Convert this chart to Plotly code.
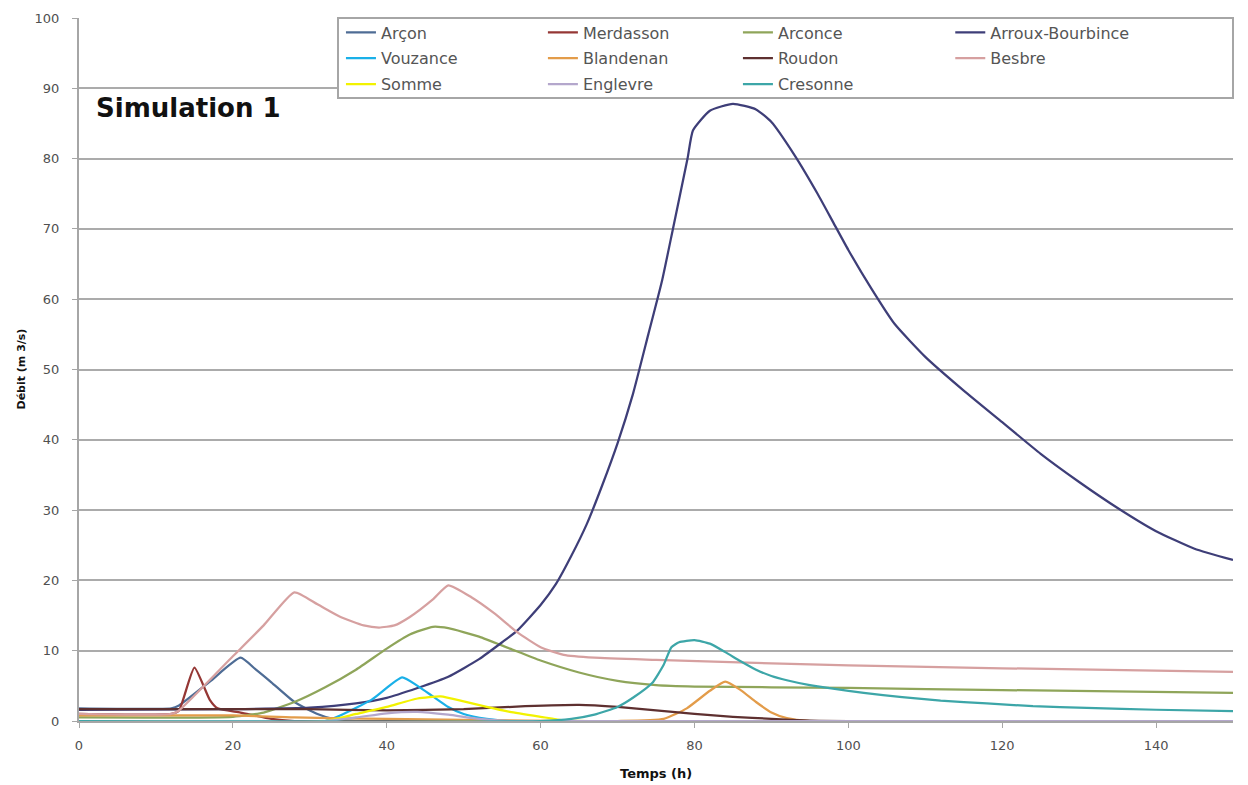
import plotly.graph_objects as go

# Hydrographs per watershed: time (h) and discharge (m3/s)
arcon_t = [0, 12, 13, 17, 21, 23, 25, 28, 31, 33, 36, 150]
arcon_q = [1.8, 1.8, 2.2, 5.6, 9.0, 7.3, 5.5, 2.7, 1.0, 0.3, 0.0, 0.0]

merdasson_t = [0, 12, 13, 15, 17, 18, 21, 25, 28, 150]
merdasson_q = [1.0, 1.0, 1.5, 7.6, 3.0, 1.8, 1.2, 0.3, 0.0, 0.0]

arconce_t = [0, 20, 24, 28, 32, 36, 40, 43, 46, 48, 52, 56, 60, 65, 70, 75, 80, 90, 100, 120, 150]
arconce_q = [0.5, 0.6, 1.2, 2.7, 4.8, 7.3, 10.3, 12.3, 13.4, 13.2, 12.0, 10.3, 8.6, 6.9, 5.7, 5.1, 4.9, 4.8, 4.7, 4.4, 4.0]

arroux_t = [0, 20, 30, 36, 40, 44, 48, 52, 55, 57, 60, 62, 64, 66, 68, 70, 72, 74, 75.8, 77.2, 79.1, 79.8,
            82, 85, 88, 90, 93, 96, 98, 100, 103, 106, 110, 115, 120, 125, 130, 135, 140, 145, 150]
arroux_q = [1.6, 1.7, 1.9, 2.5, 3.3, 4.7, 6.3, 8.8, 11.2, 12.9, 16.5, 19.5, 23.5, 28.0, 33.5, 39.5, 46.5, 55.0, 62.7, 70.0, 80.0, 84.0,
            86.8, 87.8, 87.0, 85.2, 80.5, 75.0, 71.0, 67.0, 61.5, 56.5, 51.8, 47.0, 42.5, 38.0, 34.0, 30.3, 27.0, 24.5, 22.9]

vouzance_t = [0, 32, 34, 38, 42, 44, 46, 48, 50, 53, 56, 150]
vouzance_q = [0.0, 0.0, 0.8, 3.0, 6.2, 5.0, 3.5, 2.0, 1.0, 0.3, 0.0, 0.0]

blandenan_t = [0, 20, 28, 40, 55, 70, 76, 79, 82, 84, 86, 88, 90, 92, 95, 150]
blandenan_q = [0.8, 0.8, 0.5, 0.3, 0.1, 0.0, 0.3, 1.8, 4.3, 5.6, 4.4, 2.7, 1.2, 0.4, 0.0, 0.0]

roudon_t = [0, 30, 40, 50, 58, 65, 70, 75, 80, 85, 90, 95, 100, 150]
roudon_q = [1.7, 1.7, 1.5, 1.7, 2.1, 2.3, 2.0, 1.5, 1.0, 0.6, 0.3, 0.05, 0.0, 0.0]

besbre_t = [0, 12, 13, 20, 24, 28, 31, 34, 37, 39, 41, 43, 46, 48, 51, 54, 57, 60, 63, 67, 75, 90, 100, 120, 150]
besbre_q = [1.0, 1.0, 1.5, 9.2, 13.6, 18.3, 16.6, 14.8, 13.6, 13.3, 13.6, 14.8, 17.3, 19.3, 17.6, 15.3, 12.6, 10.5, 9.4, 9.0, 8.7, 8.2, 7.9, 7.5, 7.0]

somme_t = [0, 32, 36, 40, 44, 47, 50, 53, 56, 60, 63, 66, 150]
somme_q = [0.0, 0.0, 1.0, 2.0, 3.2, 3.5, 2.8, 2.0, 1.3, 0.6, 0.1, 0.0, 0.0]

englevre_t = [0, 32, 36, 40, 44, 48, 52, 56, 150]
englevre_q = [0.0, 0.0, 0.5, 1.1, 1.3, 0.9, 0.3, 0.0, 0.0]

cresonne_t = [0, 60, 64, 67, 70, 72, 74.5, 76, 77, 78, 80, 82, 84, 86, 88, 90, 92, 95, 98, 102, 107, 112, 118, 124, 131, 140, 150]
cresonne_q = [0.0, 0.0, 0.3, 0.9, 2.0, 3.3, 5.4, 8.0, 10.5, 11.2, 11.5, 11.0, 9.8, 8.5, 7.3, 6.4, 5.8, 5.1, 4.6, 4.0, 3.4, 2.9, 2.5, 2.1, 1.85, 1.6, 1.4]

series = [
    ("Arçon", arcon_t, arcon_q, "#4E6C95", "legend"),
    ("Merdasson", merdasson_t, merdasson_q, "#953735", "legend2"),
    ("Arconce", arconce_t, arconce_q, "#8FA55A", "legend3"),
    ("Arroux-Bourbince", arroux_t, arroux_q, "#3E3E78", "legend4"),
    ("Vouzance", vouzance_t, vouzance_q, "#1AB0E8", "legend"),
    ("Blandenan", blandenan_t, blandenan_q, "#E39C4A", "legend2"),
    ("Roudon", roudon_t, roudon_q, "#5E3030", "legend3"),
    ("Besbre", besbre_t, besbre_q, "#D6A0A0", "legend4"),
    ("Somme", somme_t, somme_q, "#F2F200", "legend"),
    ("Englevre", englevre_t, englevre_q, "#B4A7CC", "legend2"),
    ("Cresonne", cresonne_t, cresonne_q, "#3DA6A8", "legend3"),
]

FONT = "'DejaVu Sans', sans-serif"

fig = go.Figure()
for name, t, q, color, leg in series:
    fig.add_trace(go.Scatter(
        x=t, y=q, name=name, mode="lines", legend=leg, legendgroup=name,
        line=dict(color=color, width=2.25, shape="spline", smoothing=0.5),
    ))

legend_style = dict(
    orientation="v", yanchor="top", y=1.0035, xanchor="left",
    bgcolor="rgba(0,0,0,0)", borderwidth=0, tracegroupgap=2,
    font=dict(family=FONT, size=16, color="#555555"),
)

fig.update_layout(
    width=1248, height=785,
    margin=dict(l=79, r=15, t=18, b=64),
    paper_bgcolor="white", plot_bgcolor="white",
    font=dict(family=FONT, color="#404040"),
    showlegend=True,
    legend=dict(x=0.227, **legend_style),
    legend2=dict(x=0.402, **legend_style),
    legend3=dict(x=0.571, **legend_style),
    legend4=dict(x=0.755, **legend_style),
    xaxis=dict(
        range=[0, 150], tickmode="linear", tick0=0, dtick=20,
        showgrid=False, zeroline=False, showline=True, linecolor="#A6A6A6", linewidth=2,
        ticks="outside", ticklen=5, tickcolor="#A6A6A6", ticklabelstandoff=6,
        tickfont=dict(family=FONT, size=13, color="#505050"),
    ),
    yaxis=dict(
        range=[0, 100], tickmode="linear", tick0=0, dtick=10,
        showgrid=True, gridcolor="#ABABAB", gridwidth=2, zeroline=False,
        showline=True, linecolor="#A6A6A6", linewidth=2,
        ticks="outside", ticklen=5, tickcolor="#A6A6A6", ticklabelstandoff=10,
        tickfont=dict(family=FONT, size=13, color="#505050"),
    ),
    shapes=[dict(
        type="rect", xref="paper", yref="paper",
        x0=(338 - 79) / 1154, x1=1.0, y0=(721 - 98) / 703, y1=1.0,
        fillcolor="white", line=dict(color="#A6A6A6", width=2), layer="above",
    )],
    annotations=[
        dict(text="<b>Simulation 1</b>", xref="paper", yref="paper",
             x=0.013, y=(721 - 108) / 703, xanchor="left", yanchor="middle",
             showarrow=False, font=dict(family=FONT, size=26, color="#111111")),
        dict(text="<b>Temps (h)</b>", xref="paper", yref="paper",
             x=0.5, y=(721 - 773) / 703, xanchor="center", yanchor="middle",
             showarrow=False, font=dict(family=FONT, size=13, color="#111111")),
        dict(text="<b>Débit (m 3/s)</b>", xref="paper", yref="paper",
             x=(21 - 79) / 1154, y=0.5, xanchor="center", yanchor="middle",
             textangle=-90, showarrow=False, font=dict(family=FONT, size=11, color="#111111")),
    ],
)

fig.write_html("out.html")
